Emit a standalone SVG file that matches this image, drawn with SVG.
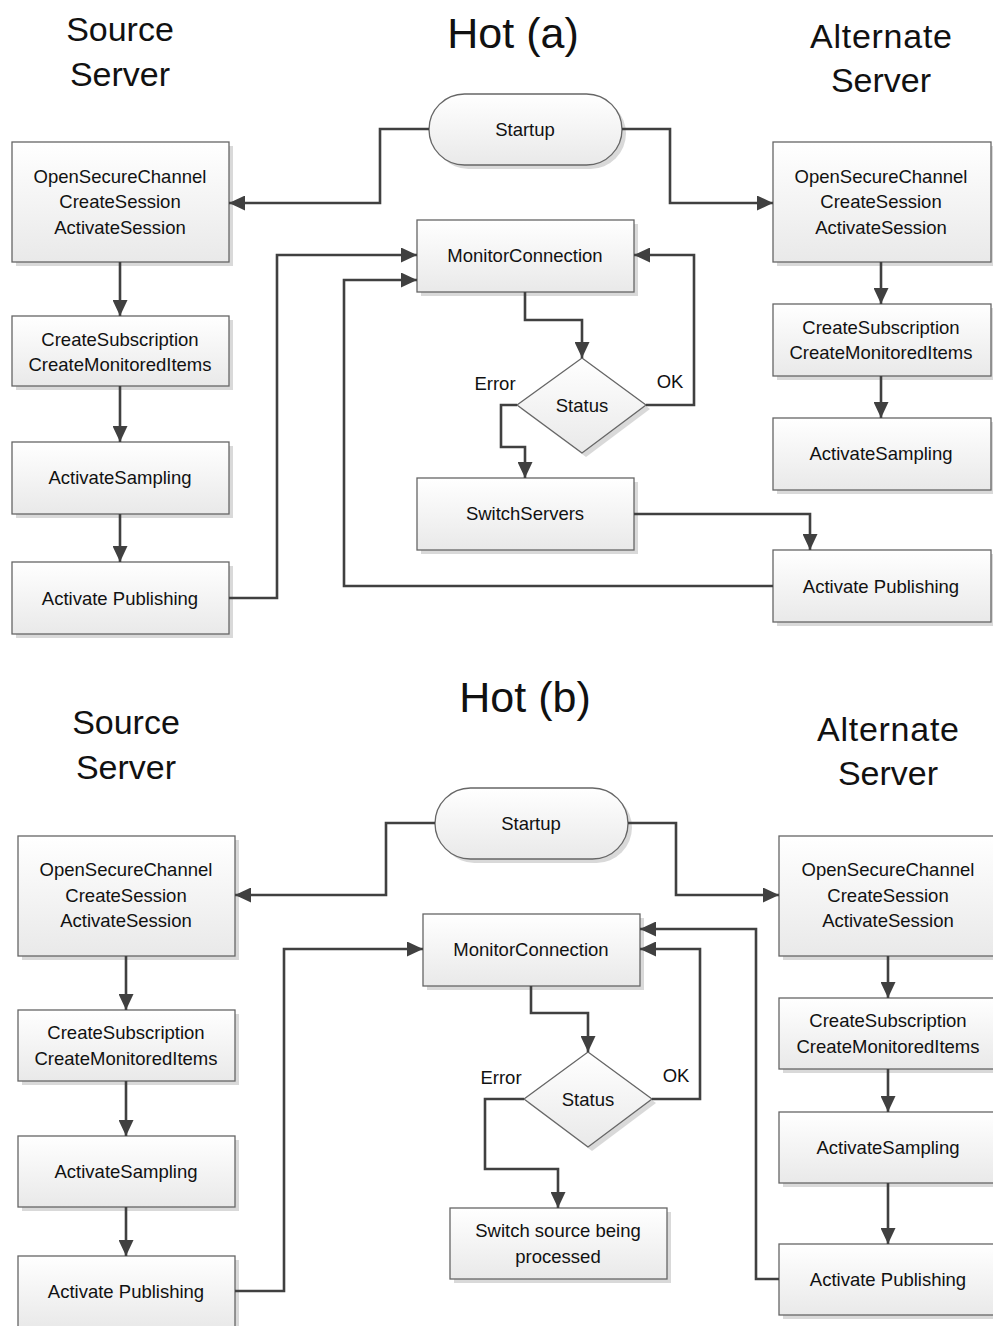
<svg xmlns="http://www.w3.org/2000/svg" width="993" height="1326" viewBox="0 0 993 1326">
<defs>
<linearGradient id="g" x1="0" y1="0" x2="0" y2="1">
<stop offset="0" stop-color="#ffffff"/>
<stop offset="1" stop-color="#e9e9e9"/>
</linearGradient>
<marker id="ar" markerUnits="userSpaceOnUse" markerWidth="17" markerHeight="15" refX="16" refY="7.5" orient="auto">
<path d="M0,0 L16,7.5 L0,15 Z" fill="#404040"/>
</marker>
<style>
.b{fill:url(#g);stroke:#666;stroke-width:1.3}
.s{fill:#d9d9d9}
.t{font-family:"Liberation Sans",Arial,sans-serif;font-size:18.5px;fill:#111;text-anchor:middle;dominant-baseline:central}
.h{font-family:"Liberation Sans",Arial,sans-serif;font-size:34px;fill:#111;text-anchor:middle;dominant-baseline:central}
.ht{font-family:"Liberation Sans",Arial,sans-serif;font-size:43px;fill:#111;text-anchor:middle;dominant-baseline:central}
.c{fill:none;stroke:#404040;stroke-width:2.6}
.a{marker-end:url(#ar)}
</style>
</defs>
<rect width="993" height="1326" fill="#fff"/>

<!-- Hot (a) -->
<g id="titles-a">
<text class="ht" x="513" y="33">Hot (a)</text>
<text class="h" x="120" y="29">Source</text>
<text class="h" x="120" y="74">Server</text>
<text class="h" x="881" y="36" textLength="142">Alternate</text>
<text class="h" x="881" y="80">Server</text>
</g>

<g id="a-startup">
<rect class="s" x="433" y="98" width="193" height="71" rx="35.5"/>
<rect class="b" x="429" y="94" width="193" height="71" rx="35.5"/>
<text class="t" x="525" y="129">Startup</text>
</g>
<g id="a-src-open">
<rect class="s" x="16" y="146" width="217" height="120"/>
<rect class="b" x="12" y="142" width="217" height="120"/>
<text class="t" x="120" y="176">OpenSecureChannel</text>
<text class="t" x="120" y="201">CreateSession</text>
<text class="t" x="120" y="227">ActivateSession</text>
</g>
<g id="a-src-sub">
<rect class="s" x="16" y="320" width="217" height="70"/>
<rect class="b" x="12" y="316" width="217" height="70"/>
<text class="t" x="120" y="339">CreateSubscription</text>
<text class="t" x="120" y="364">CreateMonitoredItems</text>
</g>
<g id="a-src-samp">
<rect class="s" x="16" y="446" width="217" height="72"/>
<rect class="b" x="12" y="442" width="217" height="72"/>
<text class="t" x="120" y="477">ActivateSampling</text>
</g>
<g id="a-src-pub">
<rect class="s" x="16" y="566" width="217" height="72"/>
<rect class="b" x="12" y="562" width="217" height="72"/>
<text class="t" x="120" y="598">Activate Publishing</text>
</g>
<g id="a-alt-open">
<rect class="s" x="777" y="146" width="218" height="120"/>
<rect class="b" x="773" y="142" width="218" height="120"/>
<text class="t" x="881" y="176">OpenSecureChannel</text>
<text class="t" x="881" y="201">CreateSession</text>
<text class="t" x="881" y="227">ActivateSession</text>
</g>
<g id="a-alt-sub">
<rect class="s" x="777" y="308" width="218" height="72"/>
<rect class="b" x="773" y="304" width="218" height="72"/>
<text class="t" x="881" y="327">CreateSubscription</text>
<text class="t" x="881" y="352">CreateMonitoredItems</text>
</g>
<g id="a-alt-samp">
<rect class="s" x="777" y="422" width="218" height="72"/>
<rect class="b" x="773" y="418" width="218" height="72"/>
<text class="t" x="881" y="453">ActivateSampling</text>
</g>
<g id="a-alt-pub">
<rect class="s" x="777" y="554" width="218" height="72"/>
<rect class="b" x="773" y="550" width="218" height="72"/>
<text class="t" x="881" y="586">Activate Publishing</text>
</g>
<g id="a-monitor">
<rect class="s" x="421" y="224" width="217" height="72"/>
<rect class="b" x="417" y="220" width="217" height="72"/>
<text class="t" x="525" y="255">MonitorConnection</text>
</g>
<g id="a-status">
<path class="s" d="M586,362 L650,409 L586,457 L521,409 Z"/>
<path class="b" d="M582,358 L646,405 L582,453 L517,405 Z"/>
<text class="t" x="582" y="405">Status</text>
</g>
<g id="a-switch">
<rect class="s" x="421" y="482" width="217" height="72"/>
<rect class="b" x="417" y="478" width="217" height="72"/>
<text class="t" x="525" y="513">SwitchServers</text>
</g>

<g id="connectors-a">
<path class="c a" d="M429,129 H380 V203 H229"/>
<path class="c a" d="M622,129 H670 V203 H773"/>
<path class="c a" d="M120,262 V316"/>
<path class="c a" d="M120,386 V442"/>
<path class="c a" d="M120,514 V562"/>
<path class="c a" d="M229,598 H277 V255 H417"/>
<path class="c a" d="M881,262 V304"/>
<path class="c a" d="M881,376 V418"/>
<path class="c a" d="M525,292 V320 H582 V358"/>
<path class="c a" d="M646,405 H694 V255 H634"/>
<path class="c a" d="M517,405 H501 V447 H525 V478"/>
<path class="c a" d="M634,514 H810 V550"/>
<path class="c a" d="M773,586 H344 V280 H417"/>
<text class="t" x="670" y="381">OK</text>
<text class="t" x="495" y="383">Error</text>
</g>

<!-- Hot (b) -->
<g id="titles-b">
<text class="ht" x="525" y="697">Hot (b)</text>
<text class="h" x="126" y="722">Source</text>
<text class="h" x="126" y="767">Server</text>
<text class="h" x="888" y="729" textLength="142">Alternate</text>
<text class="h" x="888" y="773">Server</text>
</g>

<g id="b-startup">
<rect class="s" x="439" y="792" width="193" height="71" rx="35.5"/>
<rect class="b" x="435" y="788" width="193" height="71" rx="35.5"/>
<text class="t" x="531" y="823">Startup</text>
</g>
<g id="b-src-open">
<rect class="s" x="22" y="840" width="217" height="120"/>
<rect class="b" x="18" y="836" width="217" height="120"/>
<text class="t" x="126" y="869">OpenSecureChannel</text>
<text class="t" x="126" y="895">CreateSession</text>
<text class="t" x="126" y="920">ActivateSession</text>
</g>
<g id="b-src-sub">
<rect class="s" x="22" y="1014" width="217" height="71"/>
<rect class="b" x="18" y="1010" width="217" height="71"/>
<text class="t" x="126" y="1032">CreateSubscription</text>
<text class="t" x="126" y="1058">CreateMonitoredItems</text>
</g>
<g id="b-src-samp">
<rect class="s" x="22" y="1140" width="217" height="71"/>
<rect class="b" x="18" y="1136" width="217" height="71"/>
<text class="t" x="126" y="1171">ActivateSampling</text>
</g>
<g id="b-src-pub">
<rect class="s" x="22" y="1260" width="217" height="72"/>
<rect class="b" x="18" y="1256" width="217" height="72"/>
<text class="t" x="126" y="1291">Activate Publishing</text>
</g>
<g id="b-alt-open">
<rect class="s" x="783" y="840" width="218" height="120"/>
<rect class="b" x="779" y="836" width="218" height="120"/>
<text class="t" x="888" y="869">OpenSecureChannel</text>
<text class="t" x="888" y="895">CreateSession</text>
<text class="t" x="888" y="920">ActivateSession</text>
</g>
<g id="b-alt-sub">
<rect class="s" x="783" y="1002" width="218" height="71"/>
<rect class="b" x="779" y="998" width="218" height="71"/>
<text class="t" x="888" y="1020">CreateSubscription</text>
<text class="t" x="888" y="1046">CreateMonitoredItems</text>
</g>
<g id="b-alt-samp">
<rect class="s" x="783" y="1116" width="218" height="71"/>
<rect class="b" x="779" y="1112" width="218" height="71"/>
<text class="t" x="888" y="1147">ActivateSampling</text>
</g>
<g id="b-alt-pub">
<rect class="s" x="783" y="1248" width="218" height="71"/>
<rect class="b" x="779" y="1244" width="218" height="71"/>
<text class="t" x="888" y="1279">Activate Publishing</text>
</g>
<g id="b-monitor">
<rect class="s" x="427" y="918" width="217" height="72"/>
<rect class="b" x="423" y="914" width="217" height="72"/>
<text class="t" x="531" y="949">MonitorConnection</text>
</g>
<g id="b-status">
<path class="s" d="M592,1056 L656,1103 L592,1151 L528,1103 Z"/>
<path class="b" d="M588,1052 L652,1099 L588,1147 L524,1099 Z"/>
<text class="t" x="588" y="1099">Status</text>
</g>
<g id="b-switch">
<rect class="s" x="454" y="1212" width="217" height="71"/>
<rect class="b" x="450" y="1208" width="217" height="71"/>
<text class="t" x="558" y="1230">Switch source being</text>
<text class="t" x="558" y="1256">processed</text>
</g>

<g id="connectors-b">
<path class="c a" d="M435,823 H386 V895 H235"/>
<path class="c a" d="M628,823 H676 V895 H779"/>
<path class="c a" d="M126,956 V1010"/>
<path class="c a" d="M126,1081 V1136"/>
<path class="c a" d="M126,1207 V1256"/>
<path class="c a" d="M235,1291 H284 V949 H423"/>
<path class="c a" d="M888,956 V998"/>
<path class="c a" d="M888,1069 V1112"/>
<path class="c a" d="M888,1183 V1244"/>
<path class="c a" d="M531,986 V1013 H588 V1052"/>
<path class="c a" d="M652,1099 H700 V949 H640"/>
<path class="c a" d="M524,1099 H485 V1169 H558 V1208"/>
<path class="c a" d="M779,1279 H756 V929 H640"/>
<text class="t" x="676" y="1075">OK</text>
<text class="t" x="501" y="1077">Error</text>
</g>
</svg>
